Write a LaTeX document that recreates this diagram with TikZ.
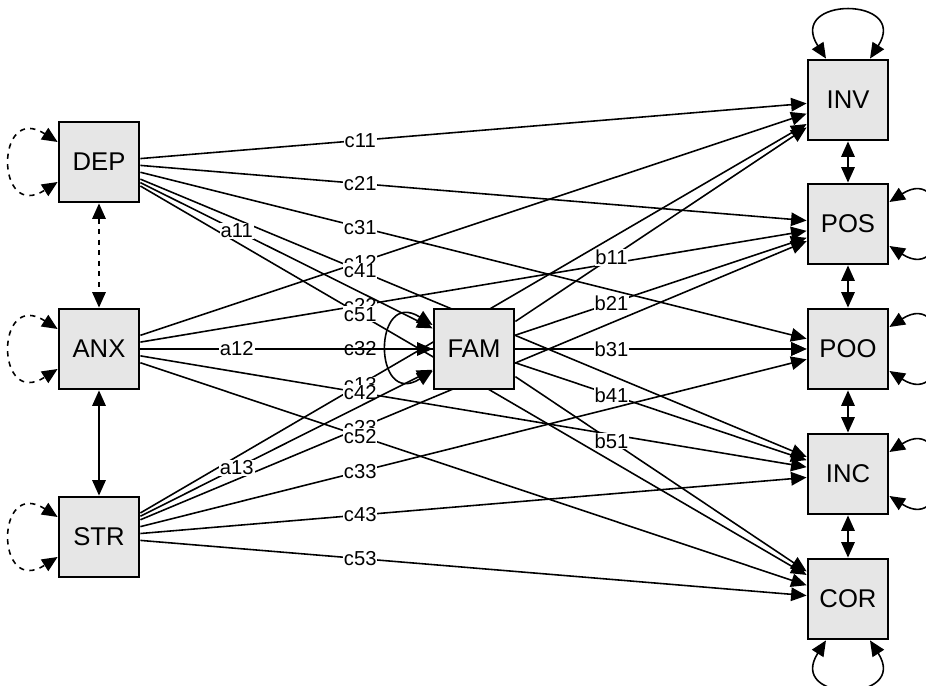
\documentclass[tikz,border=0pt]{standalone}
\usepackage{fontspec}
\setmainfont{Liberation Sans}
\usetikzlibrary{arrows.meta,backgrounds}
\definecolor{boxgray}{RGB}{230,230,230}
\tikzset{
    manifest/.style={draw, line width=1.6pt, fill=boxgray, minimum size=1.6cm, inner sep=0pt, font=\fontsize{14.6}{16}\selectfont},
    regr/.style={-{Triangle[length=3.1mm,width=2.7mm]}, line width=0.9pt},
    covar/.style={{Triangle[length=3.1mm,width=2.7mm]}-{Triangle[length=3.1mm,width=2.7mm]}, line width=0.9pt},
    lbl/.style={pos=0.33, fill=white, inner sep=0.5pt, font=\fontsize{11.5}{12}\selectfont},
}
\begin{document}
\begin{tikzpicture}
    \useasboundingbox (0,0) rectangle (18.52,13.72);
    \node[manifest] (DEP) at (1.98,10.48) {DEP};
    \node[manifest] (ANX) at (1.98,6.74) {ANX};
    \node[manifest] (STR) at (1.98,2.98) {STR};
    \node[manifest] (FAM) at (9.48,6.74) {FAM};
    \node[manifest] (INV) at (16.96,11.72) {INV};
    \node[manifest] (POS) at (16.96,9.24) {POS};
    \node[manifest] (POO) at (16.96,6.74) {POO};
    \node[manifest] (INC) at (16.96,4.24) {INC};
    \node[manifest] (COR) at (16.96,1.74) {COR};
    \begin{scope}[on background layer]
    \draw[regr] (STR) -- node[lbl]{c13} (INV);
    \draw[regr] (STR) -- node[lbl]{c23} (POS);
    \draw[regr] (STR) -- node[lbl]{c33} (POO);
    \draw[regr] (STR) -- node[lbl]{c43} (INC);
    \draw[regr] (STR) -- node[lbl]{c53} (COR);
    \draw[regr] (ANX) -- node[lbl]{c12} (INV);
    \draw[regr] (ANX) -- node[lbl]{c22} (POS);
    \draw[regr] (ANX) -- node[lbl]{c32} (POO);
    \draw[regr] (ANX) -- node[lbl]{c42} (INC);
    \draw[regr] (ANX) -- node[lbl]{c52} (COR);
    \draw[regr] (DEP) -- node[lbl]{c11} (INV);
    \draw[regr] (DEP) -- node[lbl]{c21} (POS);
    \draw[regr] (DEP) -- node[lbl]{c31} (POO);
    \draw[regr] (DEP) -- node[lbl]{c41} (INC);
    \draw[regr] (DEP) -- node[lbl]{c51} (COR);
    \draw[regr] (DEP) -- node[lbl]{a11} (FAM);
    \draw[regr] (ANX) -- node[lbl]{a12} (FAM);
    \draw[regr] (STR) -- node[lbl]{a13} (FAM);
    \draw[regr] (FAM) -- node[lbl]{b11} (INV);
    \draw[regr] (FAM) -- node[lbl]{b21} (POS);
    \draw[regr] (FAM) -- node[lbl]{b31} (POO);
    \draw[regr] (FAM) -- node[lbl]{b41} (INC);
    \draw[regr] (FAM) -- node[lbl]{b51} (COR);
    \draw[covar, dashed] (DEP) -- (ANX);
    \draw[covar] (ANX) -- (STR);
    \draw[covar] (INV) -- (POS);
    \draw[covar] (POS) -- (POO);
    \draw[covar] (POO) -- (INC);
    \draw[covar] (INC) -- (COR);
    \draw[covar, dashed] ([yshift=0.4cm]DEP.west) .. controls +(-1.25,0.8) and +(-1.25,-0.8) .. ([yshift=-0.4cm]DEP.west);
    \draw[covar, dashed] ([yshift=0.4cm]ANX.west) .. controls +(-1.25,0.8) and +(-1.25,-0.8) .. ([yshift=-0.4cm]ANX.west);
    \draw[covar, dashed] ([yshift=0.4cm]STR.west) .. controls +(-1.25,0.8) and +(-1.25,-0.8) .. ([yshift=-0.4cm]STR.west);
    \draw[covar] ([yshift=0.48cm]FAM.west) .. controls +(-1.2,0.75) and +(-1.2,-0.75) .. ([yshift=-0.44cm]FAM.west);
    \draw[covar] ([xshift=-0.44cm]INV.north) .. controls +(-0.8,1.25) and +(0.8,1.25) .. ([xshift=0.44cm]INV.north);
    \draw[covar] ([yshift=0.44cm]POS.east) .. controls +(1.25,0.8) and +(1.25,-0.8) .. ([yshift=-0.44cm]POS.east);
    \draw[covar] ([yshift=0.44cm]POO.east) .. controls +(1.25,0.8) and +(1.25,-0.8) .. ([yshift=-0.44cm]POO.east);
    \draw[covar] ([yshift=0.44cm]INC.east) .. controls +(1.25,0.8) and +(1.25,-0.8) .. ([yshift=-0.44cm]INC.east);
    \draw[covar] ([xshift=-0.44cm]COR.south) .. controls +(-0.8,-1.25) and +(0.8,-1.25) .. ([xshift=0.44cm]COR.south);
    \end{scope}
\end{tikzpicture}
\end{document}
